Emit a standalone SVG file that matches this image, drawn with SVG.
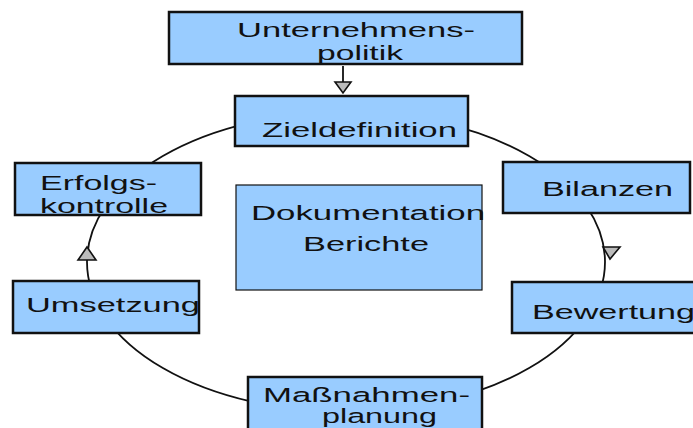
<svg xmlns="http://www.w3.org/2000/svg" width="693" height="428" viewBox="0 0 693 428">
<style>
.box{fill:#99ccff;stroke:#111;stroke-width:2.5}
.box2{fill:#99ccff;stroke:#111;stroke-width:1.2}
.lbl{font-family:"Liberation Sans",Arial,sans-serif;font-size:20.5px;fill:#111}
.conn{fill:none;stroke:#111;stroke-width:1.8}
.head{fill:#bbbbbb;stroke:#111;stroke-width:1.6;stroke-linejoin:miter}
</style>
<rect width="693" height="428" fill="#ffffff"/>
<g id="connectors">
<ellipse class="conn" cx="346" cy="262" rx="259" ry="150"/>
<line class="conn" x1="343" y1="66" x2="343" y2="82"/>
<polygon class="head" points="335,82 351,82 343,93"/>
<polygon class="head" points="78,260 96,260 87,247"/>
<polygon class="head" points="603,247 620,247 610,259"/>
</g>
<g id="unternehmenspolitik">
<rect class="box" x="169" y="12" width="353" height="52"/>
<text class="lbl" x="237" y="37" textLength="238" lengthAdjust="spacingAndGlyphs">Unternehmens-</text>
<text class="lbl" x="317" y="60" textLength="86" lengthAdjust="spacingAndGlyphs">politik</text>
</g>
<g id="zieldefinition">
<rect class="box" x="235" y="96" width="233" height="50"/>
<text class="lbl" x="262" y="137" textLength="195" lengthAdjust="spacingAndGlyphs">Zieldefinition</text>
</g>
<g id="bilanzen">
<rect class="box" x="503" y="162" width="187" height="51"/>
<text class="lbl" x="542" y="196" textLength="131" lengthAdjust="spacingAndGlyphs">Bilanzen</text>
</g>
<g id="bewertung">
<rect class="box" x="512" y="282" width="190" height="51"/>
<text class="lbl" x="532" y="319" textLength="163" lengthAdjust="spacingAndGlyphs">Bewertung</text>
</g>
<g id="massnahmenplanung">
<rect class="box" x="248" y="377" width="234" height="60"/>
<text class="lbl" x="263" y="402" textLength="207" lengthAdjust="spacingAndGlyphs">Maßnahmen-</text>
<text class="lbl" x="322" y="423" textLength="115" lengthAdjust="spacingAndGlyphs">planung</text>
</g>
<g id="umsetzung">
<rect class="box" x="13" y="281" width="186" height="52"/>
<text class="lbl" x="26" y="312" textLength="174" lengthAdjust="spacingAndGlyphs">Umsetzung</text>
</g>
<g id="erfolgskontrolle">
<rect class="box" x="15" y="163" width="186" height="52"/>
<text class="lbl" x="40" y="190" textLength="117" lengthAdjust="spacingAndGlyphs">Erfolgs-</text>
<text class="lbl" x="40" y="213" textLength="128" lengthAdjust="spacingAndGlyphs">kontrolle</text>
</g>
<g id="dokumentation">
<rect class="box2" x="236" y="185" width="246" height="105"/>
<text class="lbl" x="251" y="220" textLength="234" lengthAdjust="spacingAndGlyphs">Dokumentation</text>
<text class="lbl" x="303" y="251" textLength="126" lengthAdjust="spacingAndGlyphs">Berichte</text>
</g>
</svg>
